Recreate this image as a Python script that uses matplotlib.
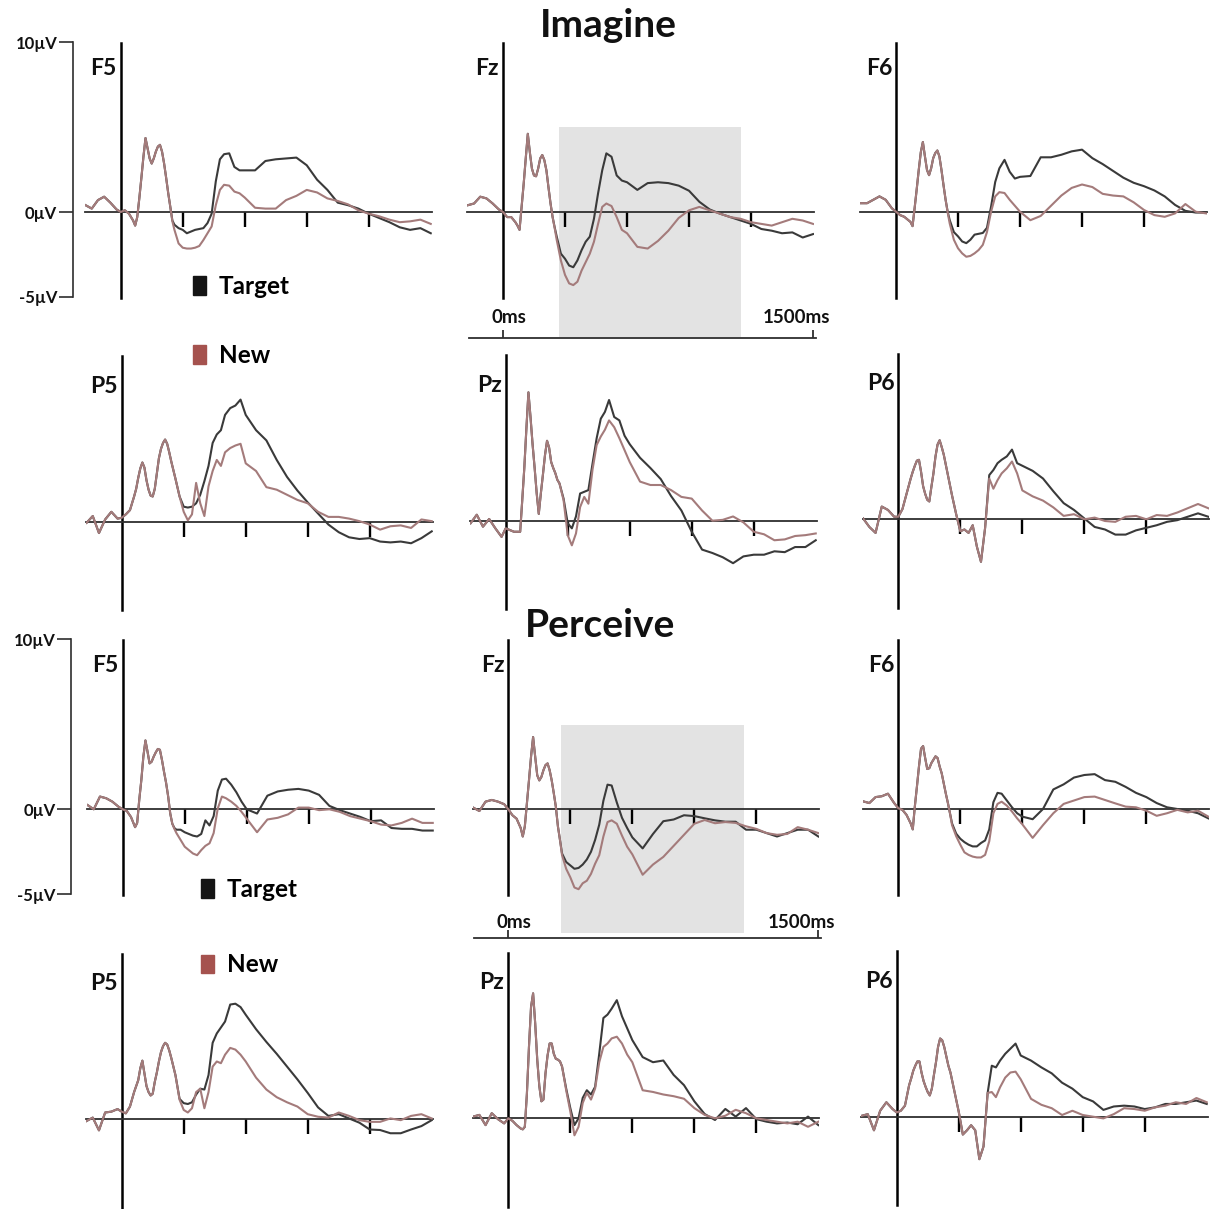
import matplotlib
matplotlib.use("Agg")
import matplotlib.pyplot as plt
from matplotlib.patches import Rectangle, Patch

# ---------------- data (ms grid, µV values) ----------------
T_MS = [-170, -140, -110, -80, -50, -20, 0, 20, 40,
        60, 70, 80, 90, 100, 110, 120, 130, 140, 150, 160, 170, 180, 190, 200, 210, 220, 230, 240, 250, 260,
        280, 300, 320, 340, 360, 380, 400, 420, 440, 460, 480, 500,
        525, 550, 575, 600,
        650, 700, 750, 800, 850, 900, 950, 1000, 1050, 1100, 1150, 1200, 1250, 1300, 1350, 1400, 1450, 1500]

IM_F5_TARGET = [0.4, 0.2, 0.7, 0.9, 0.55, 0.15, 0.0, 0.1, -0.1,
    -0.5, -0.8, -0.3, 0.8, 2.0, 3.25, 4.35, 3.75, 3.15, 2.85, 3.15, 3.55, 3.85, 3.95, 3.55, 2.85, 2.0, 1.1, 0.3, -0.5, -0.75,
    -0.95, -1.05, -1.25, -1.15, -1.05, -1.0, -0.95, -0.65, -0.1, 1.8, 3.1, 3.4,
    3.45, 2.65, 2.45, 2.45,
    2.45, 3.0, 3.1, 3.15, 3.2, 2.75, 1.9, 1.3, 0.55, 0.4, 0.2, -0.1, -0.35, -0.6, -0.9, -1.05, -0.95, -1.25]
IM_F5_NEW = [0.4, 0.2, 0.7, 0.9, 0.55, 0.15, 0.0, 0.1, -0.1,
    -0.5, -0.8, -0.3, 0.8, 2.0, 3.25, 4.35, 3.75, 3.15, 2.85, 3.15, 3.55, 3.85, 3.95, 3.55, 2.85, 2.0, 1.1, 0.3, -0.55, -1.05,
    -1.85, -2.1, -2.15, -2.15, -2.1, -2.0, -1.65, -1.25, -0.85, 0.4, 1.3, 1.6,
    1.55, 1.2, 1.1, 0.85,
    0.25, 0.2, 0.2, 0.7, 0.95, 1.3, 1.15, 0.8, 0.65, 0.45, 0.1, -0.1, -0.25, -0.45, -0.6, -0.55, -0.45, -0.7]

IM_FZ_TARGET = [0.4, 0.5, 0.9, 0.8, 0.5, 0.15, 0.0, -0.3, -0.3,
    -0.6, -0.8, -1.05, 0.3, 1.65, 3.15, 4.6, 3.5, 2.55, 2.15, 2.1, 2.55, 3.15, 3.35, 3.05, 2.45, 1.45, 0.5, -0.3, -0.9, -1.45,
    -2.45, -2.75, -3.15, -3.25, -2.85, -2.25, -1.75, -1.45, -0.4, 1.1, 2.45, 3.45,
    3.25, 2.15, 1.85, 1.75,
    1.3, 1.7, 1.75, 1.7, 1.55, 1.25, 0.6, 0.15, -0.1, -0.3, -0.5, -0.7, -1.0, -1.1, -1.25, -1.2, -1.5, -1.3]
IM_FZ_NEW = [0.4, 0.5, 0.9, 0.8, 0.5, 0.15, 0.0, -0.3, -0.3,
    -0.6, -0.8, -1.05, 0.3, 1.65, 3.15, 4.6, 3.5, 2.55, 2.15, 2.1, 2.55, 3.15, 3.35, 3.05, 2.45, 1.45, 0.5, -0.3, -0.95, -1.65,
    -2.85, -3.7, -4.2, -4.3, -4.1, -3.45, -2.95, -2.45, -1.75, -0.7, 0.3, 0.5,
    0.35, -0.3, -1.05, -1.25,
    -2.05, -2.15, -1.7, -1.1, -0.35, 0.1, 0.3, 0.1, -0.1, -0.3, -0.4, -0.6, -0.7, -0.8, -0.6, -0.4, -0.5, -0.7]

IM_F6_TARGET = [0.5, 0.5, 0.7, 0.9, 0.7, 0.2, 0.0, -0.2, -0.3,
    -0.5, -0.6, -0.85, 0.2, 1.3, 2.45, 3.5, 4.1, 3.25, 2.45, 2.15, 2.55, 3.15, 3.45, 3.6, 3.25, 2.45, 1.55, 0.7, 0.0, -0.5,
    -1.2, -1.45, -1.75, -1.85, -1.65, -1.35, -1.3, -1.25, -0.95, 0.3, 1.75, 2.55,
    3.05, 2.35, 1.95, 2.05,
    2.1, 3.2, 3.2, 3.35, 3.55, 3.65, 3.15, 2.8, 2.4, 2.0, 1.7, 1.5, 1.25, 0.9, 0.4, 0.05, -0.05, -0.05]
IM_F6_NEW = [0.5, 0.5, 0.7, 0.9, 0.7, 0.2, 0.0, -0.2, -0.3,
    -0.5, -0.6, -0.85, 0.2, 1.3, 2.45, 3.5, 4.1, 3.25, 2.45, 2.15, 2.55, 3.15, 3.45, 3.6, 3.25, 2.45, 1.55, 0.7, -0.05, -0.7,
    -1.65, -2.15, -2.45, -2.65, -2.6, -2.45, -2.25, -1.95, -1.2, 0.0, 0.9, 1.15,
    1.1, 0.7, 0.35, 0.0,
    -0.5, -0.25, 0.35, 0.95, 1.4, 1.6, 1.45, 1.05, 0.95, 0.9, 0.55, 0.1, -0.2, -0.3, -0.1, 0.45, 0.0, -0.1]

IM_P5_TARGET = [-0.05, 0.35, -0.65, 0.15, 0.6, 0.2, 0.25, 0.45, 0.7,
    1.5, 1.95, 2.6, 3.15, 3.5, 3.2, 2.45, 1.9, 1.55, 1.5, 1.95, 2.85, 3.75, 4.3, 4.65, 4.85, 4.6, 4.1, 3.55, 3.05, 2.55,
    1.5, 0.9, 0.85, 0.9, 1.1, 1.6, 2.4, 3.3, 4.65, 5.15, 5.4, 6.3,
    6.7, 6.85, 7.2, 6.3,
    5.4, 4.8, 3.65, 2.65, 1.85, 1.15, 0.5, -0.15, -0.6, -0.9, -1.0, -0.95, -1.15, -1.2, -1.15, -1.25, -0.95, -0.55]
IM_P5_NEW = [-0.05, 0.35, -0.65, 0.15, 0.6, 0.2, 0.25, 0.45, 0.7,
    1.5, 1.95, 2.6, 3.15, 3.5, 3.2, 2.45, 1.9, 1.55, 1.5, 1.95, 2.85, 3.75, 4.3, 4.65, 4.85, 4.6, 4.1, 3.55, 3.05, 2.55,
    1.5, 0.6, 0.1, 0.45, 2.3, 1.1, 0.35, 2.1, 3.0, 3.65, 3.3, 4.1,
    4.35, 4.5, 4.6, 3.45,
    3.0, 2.05, 1.9, 1.6, 1.3, 1.1, 0.6, 0.3, 0.3, 0.2, 0.05, -0.15, -0.45, -0.25, -0.2, -0.35, 0.15, 0.05]

IM_PZ_TARGET = [-0.15, 0.35, -0.35, 0.1, -0.45, -0.95, -0.45, -0.55, -0.65,
    -0.65, -0.65, 1.2, 3.1, 5.4, 7.55, 6.1, 4.5, 3.1, 1.6, 0.4, 1.6, 2.7, 3.85, 4.7, 4.3, 3.45, 3.1, 2.8, 2.4, 2.2,
    1.3, -0.15, -0.45, 0.25, 1.6, 1.7, 1.8, 3.35, 4.85, 6.0, 6.4, 7.1,
    6.1, 5.9, 5.0, 4.5,
    3.7, 3.1, 2.45, 1.45, 0.6, -0.65, -1.7, -1.9, -2.15, -2.5, -2.1, -2.0, -2.0, -1.8, -1.85, -1.55, -1.55, -1.15]
IM_PZ_NEW = [-0.15, 0.35, -0.35, 0.1, -0.45, -0.95, -0.45, -0.55, -0.65,
    -0.65, -0.65, 1.2, 3.1, 5.4, 7.55, 6.1, 4.5, 3.1, 1.6, 0.4, 1.6, 2.7, 3.85, 4.7, 4.3, 3.45, 3.1, 2.8, 2.4, 2.2,
    1.2, -0.85, -1.45, -0.75, 0.8, 1.4, 1.0, 3.0, 4.45, 4.95, 5.35, 5.9,
    5.5, 4.85, 4.15, 3.45,
    2.3, 2.1, 2.1, 1.8, 1.4, 1.3, 0.6, 0.0, 0.05, 0.25, -0.1, -0.65, -0.8, -1.15, -1.1, -0.9, -0.85, -0.75]

IM_P6_TARGET = [0.05, -0.45, -0.8, 0.75, 0.55, 0.15, 0.15, 0.6, 1.5,
    2.4, 2.8, 3.15, 3.45, 3.5, 2.8, 1.95, 1.5, 1.15, 1.05, 1.9, 2.7, 3.7, 4.4, 4.65, 4.25, 3.8, 3.2, 2.6, 2.0, 1.4,
    0.3, -0.7, -0.6, -0.8, -0.35, -1.6, -2.5, -0.5, 2.6, 2.9, 3.3, 3.5,
    3.7, 4.1, 3.3, 3.15,
    2.85, 2.4, 1.65, 0.95, 0.55, 0.05, -0.45, -0.6, -0.9, -0.9, -0.65, -0.5, -0.35, -0.15, -0.05, 0.15, 0.35, 0.15]
IM_P6_NEW = [0.05, -0.45, -0.8, 0.75, 0.55, 0.15, 0.15, 0.6, 1.5,
    2.4, 2.8, 3.15, 3.45, 3.5, 2.8, 1.95, 1.5, 1.15, 1.05, 1.9, 2.7, 3.7, 4.4, 4.65, 4.25, 3.8, 3.2, 2.6, 2.0, 1.4,
    0.3, -0.7, -0.6, -0.8, -0.35, -1.6, -2.5, -0.5, 2.4, 1.8, 2.3, 2.7,
    3.0, 3.4, 2.7, 1.7,
    1.35, 1.1, 0.7, 0.2, 0.3, 0.0, 0.1, -0.1, -0.15, 0.15, 0.2, 0.0, 0.25, 0.2, 0.4, 0.65, 0.9, 0.65]

PE_F5_TARGET = [0.25, 0.0, 0.75, 0.65, 0.45, 0.15, 0.0, -0.1, -0.45,
    -1.05, -0.8, 0.55, 1.7, 3.1, 4.05, 3.4, 2.7, 2.8, 3.1, 3.35, 3.55, 3.5, 2.9, 2.2, 1.55, 0.75, -0.25, -0.85, -1.1, -1.2,
    -1.2, -1.35, -1.45, -1.55, -1.6, -1.45, -0.65, -0.95, -0.4, 1.1, 1.75, 1.8,
    1.45, 1.0, 0.45, 0.0,
    -0.25, 0.8, 1.05, 1.15, 1.2, 1.1, 0.85, 0.2, -0.05, -0.25, -0.45, -0.7, -0.65, -1.1, -1.15, -1.15, -1.25, -1.25]
PE_F5_NEW = [0.25, 0.0, 0.75, 0.65, 0.45, 0.15, 0.0, -0.1, -0.45,
    -1.05, -0.8, 0.55, 1.7, 3.1, 4.05, 3.4, 2.7, 2.8, 3.1, 3.35, 3.55, 3.5, 2.9, 2.2, 1.55, 0.75, -0.25, -0.85, -1.15, -1.4,
    -1.8, -2.2, -2.4, -2.6, -2.7, -2.4, -2.15, -2.0, -1.4, 0.05, 0.75, 0.65,
    0.45, 0.2, -0.15, -0.55,
    -1.35, -0.6, -0.5, -0.3, 0.1, 0.1, -0.05, 0.0, -0.15, -0.4, -0.55, -0.7, -0.9, -0.95, -0.8, -0.55, -0.8, -0.8]

PE_FZ_TARGET = [0.1, -0.1, 0.45, 0.55, 0.45, 0.3, 0.0, -0.35, -0.55,
    -1.1, -1.6, -1.0, 0.35, 1.7, 3.1, 4.25, 3.1, 2.0, 1.7, 1.9, 2.3, 2.6, 2.7, 2.3, 1.7, 0.95, 0.15, -1.0, -1.8, -2.6,
    -3.1, -3.3, -3.5, -3.45, -3.25, -2.95, -2.5, -1.8, -0.9, 0.5, 1.45, 1.4,
    0.4, -0.5, -1.1, -1.65,
    -2.3, -1.45, -0.7, -0.6, -0.35, -0.4, -0.53, -0.65, -0.73, -0.73, -1.2, -1.2, -1.4, -1.6, -1.4, -1.2, -1.2, -1.6]
PE_FZ_NEW = [0.1, -0.1, 0.45, 0.55, 0.45, 0.3, 0.0, -0.35, -0.55,
    -1.1, -1.6, -1.0, 0.35, 1.7, 3.1, 4.25, 3.1, 2.0, 1.7, 1.9, 2.3, 2.6, 2.7, 2.3, 1.7, 0.95, 0.15, -1.0, -1.8, -2.7,
    -3.5, -4.0, -4.6, -4.7, -4.35, -4.2, -3.8, -3.2, -2.7, -1.6, -0.75, -0.65,
    -0.85, -1.55, -2.2, -2.65,
    -3.85, -3.25, -2.8, -2.15, -1.5, -0.85, -0.63, -0.82, -0.75, -0.8, -1.0, -1.15, -1.4, -1.5, -1.45, -1.05, -1.2, -1.4]

PE_F6_TARGET = [0.45, 0.35, 0.7, 0.75, 0.9, 0.35, 0.05, -0.05, -0.35,
    -0.85, -1.2, 0.15, 1.3, 2.5, 3.55, 3.7, 3.0, 2.35, 2.4, 2.7, 2.9, 3.1, 3.0, 2.5, 2.1, 1.5, 0.9, 0.35, -0.25, -0.85,
    -1.45, -1.75, -1.95, -2.1, -2.2, -2.2, -2.0, -1.85, -1.2, 0.4, 0.95, 0.9,
    0.5, 0.1, -0.25, -0.45,
    -0.6, 0.0, 1.15, 1.45, 1.85, 2.0, 2.05, 1.7, 1.6, 1.3, 0.95, 0.7, 0.35, 0.1, 0.0, -0.1, -0.25, -0.55]
PE_F6_NEW = [0.45, 0.35, 0.7, 0.75, 0.9, 0.35, 0.05, -0.05, -0.35,
    -0.85, -1.2, 0.15, 1.3, 2.5, 3.55, 3.7, 3.0, 2.35, 2.4, 2.7, 2.9, 3.1, 3.0, 2.5, 2.1, 1.5, 0.9, 0.35, -0.25, -0.95,
    -1.6, -2.1, -2.55, -2.7, -2.8, -2.85, -2.85, -2.7, -1.9, -0.25, 0.3, 0.43,
    0.2, -0.15, -0.55, -0.9,
    -1.7, -0.95, -0.25, 0.3, 0.5, 0.7, 0.73, 0.53, 0.33, 0.14, 0.1, -0.1, -0.4, -0.25, -0.05, -0.2, -0.1, -0.45]

PE_P5_TARGET = [-0.1, 0.1, -0.65, 0.4, 0.45, 0.6, 0.45, 0.35, 0.75,
    1.6, 1.95, 2.3, 3.0, 3.45, 2.7, 1.95, 1.6, 1.4, 1.5, 2.2, 2.75, 3.4, 3.95, 4.3, 4.5, 4.4, 4.05, 3.6, 3.1, 2.6,
    1.2, 0.95, 0.9, 1.0, 1.45, 1.8, 1.75, 2.6, 4.5, 5.05, 5.4, 5.75,
    6.75, 6.8, 6.6, 6.15,
    5.3, 4.55, 3.85, 3.1, 2.35, 1.55, 0.7, 0.2, 0.3, 0.05, -0.2, -0.6, -0.63, -0.82, -0.82, -0.6, -0.4, -0.05]
PE_P5_NEW = [-0.1, 0.1, -0.65, 0.4, 0.45, 0.6, 0.45, 0.35, 0.75,
    1.6, 1.95, 2.3, 3.0, 3.45, 2.7, 1.95, 1.6, 1.4, 1.5, 2.2, 2.75, 3.4, 3.95, 4.3, 4.5, 4.4, 4.05, 3.6, 3.1, 2.6,
    1.15, 0.55, 0.4, 0.65, 1.6, 1.8, 0.65, 1.6, 3.1, 3.4, 3.3, 3.8,
    4.2, 4.1, 3.8, 3.4,
    2.45, 1.75, 1.3, 1.0, 0.75, 0.3, 0.15, 0.1, 0.4, 0.2, -0.05, -0.15, -0.15, 0.05, -0.05, 0.2, 0.3, 0.05]

PE_PZ_TARGET = [0.1, 0.2, -0.4, 0.3, -0.05, -0.3, 0.0, -0.15, -0.4,
    -0.6, -0.65, -0.5, 1.45, 4.2, 6.55, 7.35, 5.6, 3.45, 1.9, 1.0, 1.1, 2.65, 3.7, 4.4, 4.4, 3.8, 3.5, 3.45, 3.35, 3.05,
    1.75, 0.6, -0.4, 0.0, 1.2, 1.65, 1.4, 1.85, 3.8, 5.9, 6.1, 6.45,
    6.95, 6.0, 5.3, 4.6,
    3.6, 3.3, 3.4, 2.55, 1.95, 1.0, 0.25, -0.1, 0.55, 0.1, 0.6, -0.05, -0.2, -0.3, -0.25, -0.35, 0.1, -0.4]
PE_PZ_NEW = [0.1, 0.2, -0.4, 0.3, -0.05, -0.3, 0.0, -0.15, -0.4,
    -0.6, -0.65, -0.5, 1.45, 4.2, 6.55, 7.35, 5.6, 3.45, 1.9, 1.0, 1.1, 2.65, 3.7, 4.4, 4.4, 3.8, 3.5, 3.45, 3.35, 3.05,
    1.65, 0.4, -1.0, -0.5, 0.9, 1.5, 1.1, 1.75, 3.3, 4.2, 4.4, 4.7,
    4.8, 4.4, 3.75, 3.3,
    1.65, 1.55, 1.4, 1.3, 1.15, 0.6, 0.2, 0.0, 0.15, 0.5, 0.3, 0.0, -0.1, -0.2, -0.3, -0.2, -0.5, -0.2]

PE_P6_TARGET = [0.05, 0.15, -0.8, 0.35, 0.85, 0.45, 0.25, 0.35, 0.65,
    1.85, 2.25, 2.7, 3.0, 3.25, 3.25, 2.6, 2.1, 1.75, 1.45, 1.25, 1.65, 2.45, 3.2, 4.1, 4.6, 4.5, 4.1, 3.55, 3.0, 2.6,
    1.45, 0.3, -1.05, -0.8, -0.5, -0.8, -2.5, -1.75, 1.4, 3.0, 2.9, 3.3,
    3.7, 4.0, 4.3, 3.6,
    3.3, 2.9, 2.55, 2.0, 1.65, 1.15, 0.9, 0.4, 0.6, 0.65, 0.6, 0.45, 0.55, 0.75, 0.75, 0.85, 0.95, 0.75]
PE_P6_NEW = [0.05, 0.15, -0.8, 0.35, 0.85, 0.45, 0.25, 0.35, 0.65,
    1.85, 2.25, 2.7, 3.0, 3.25, 3.25, 2.6, 2.1, 1.75, 1.45, 1.25, 1.65, 2.45, 3.2, 4.1, 4.6, 4.5, 4.1, 3.55, 3.0, 2.6,
    1.45, 0.3, -1.05, -0.8, -0.5, -0.8, -2.5, -1.75, 1.4, 1.45, 1.15, 1.73,
    2.3, 2.6, 2.65, 2.2,
    1.05, 0.7, 0.5, 0.1, 0.35, 0.1, 0.0, -0.1, 0.15, 0.5, 0.45, 0.35, 0.55, 0.65, 0.85, 0.75, 1.1, 0.85]

ELECTRODES_F = ["F5", "Fz", "F6"]
ELECTRODES_P = ["P5", "Pz", "P6"]
BLOCK_TITLES = ["Imagine", "Perceive"]
LEGEND_LABELS = ["Target", "New"]
TIME_TICKS_MS = [300, 600, 900, 1200]
SCALE_UV = [-5, 0, 10]
SCALE_LABELS = ["-5µV", "0µV", "10µV"]
TIMEBAR_MS = [0, 1500]
TIMEBAR_LABELS = ["0ms", "1500ms"]
SHADE_IM_MS = (270, 1150)
SHADE_PE_MS = (255, 1140)

# ---------------- layout ----------------
W, H, DPI = 1214, 1209, 100
PX_MS = 0.2067   # pixels per ms
PX_UV = 17.0     # pixels per µV
FONT = ['Lato', 'DejaVu Sans']
plt.rcParams['font.family'] = FONT

TARGET_COLOR = '#3a3a3a'
NEW_COLOR = '#a47b7b'
TARGET_MARK = '#141414'
NEW_MARK = '#a5524e'

XLIM = (-172, 1505)
F_YLIM = (-5.05, 9.95)
P_YLIM = (-5.2, 9.75)
F_LABEL_UV = 8.05
P_LABEL_UV = 7.6

# origin (t=0, 0 µV) of each panel in pixels
ORIGINS = {
    (0, 0): (120.7, 212.0), (0, 1): (503.0, 212.0), (0, 2): (896.0, 211.7),
    (1, 0): (121.7, 522.0), (1, 1): (505.7, 520.7), (1, 2): (898.3, 519.3),
    (2, 0): (122.7, 809.3), (2, 1): (508.3, 809.3), (2, 2): (898.3, 809.0),
    (3, 0): (121.7, 1119.3), (3, 1): (508.3, 1118.3), (3, 2): (896.7, 1116.7),
}

SERIES = {
    (0, 0): (IM_F5_TARGET, IM_F5_NEW), (0, 1): (IM_FZ_TARGET, IM_FZ_NEW), (0, 2): (IM_F6_TARGET, IM_F6_NEW),
    (1, 0): (IM_P5_TARGET, IM_P5_NEW), (1, 1): (IM_PZ_TARGET, IM_PZ_NEW), (1, 2): (IM_P6_TARGET, IM_P6_NEW),
    (2, 0): (PE_F5_TARGET, PE_F5_NEW), (2, 1): (PE_FZ_TARGET, PE_FZ_NEW), (2, 2): (PE_F6_TARGET, PE_F6_NEW),
    (3, 0): (PE_P5_TARGET, PE_P5_NEW), (3, 1): (PE_PZ_TARGET, PE_PZ_NEW), (3, 2): (PE_P6_TARGET, PE_P6_NEW),
}
for key, (a, b) in SERIES.items():
    if len(a) != len(T_MS) or len(b) != len(T_MS):
        raise ValueError(f"length mismatch {key}: {len(a)} {len(b)} vs {len(T_MS)}")

fig = plt.figure(figsize=(W / DPI, H / DPI), dpi=DPI)
fig.patch.set_facecolor('white')


def axes_px(x0, yb, xlim, ylim):
    left = x0 + xlim[0] * PX_MS
    width = (xlim[1] - xlim[0]) * PX_MS
    top = yb - ylim[1] * PX_UV
    height = (ylim[1] - ylim[0]) * PX_UV
    ax = fig.add_axes([left / W, 1 - (top + height) / H, width / W, height / H])
    ax.set_xlim(*xlim)
    ax.set_ylim(*ylim)
    ax.patch.set_visible(False)
    return ax


panel_axes = {}
for (r, c), (tgt, new) in SERIES.items():
    x0, yb = ORIGINS[(r, c)]
    is_f = (r % 2 == 0)
    ylim = F_YLIM if is_f else P_YLIM
    ax = axes_px(x0, yb, XLIM, ylim)
    panel_axes[(r, c)] = ax
    ax.plot(T_MS, tgt, color=TARGET_COLOR, lw=1.5, zorder=3, solid_joinstyle='round')
    ax.plot(T_MS, new, color=NEW_COLOR, lw=1.5, zorder=4, solid_joinstyle='round')
    for s in ('top', 'right'):
        ax.spines[s].set_visible(False)
    ax.spines['left'].set_position(('data', 0))
    ax.spines['bottom'].set_position(('data', 0))
    ax.spines['left'].set_linewidth(1.8)
    ax.spines['left'].set_color('black')
    ax.spines['bottom'].set_linewidth(1.3)
    ax.spines['bottom'].set_color('#2e2e2e')
    ax.set_xticks(TIME_TICKS_MS)
    ax.set_xticklabels([])
    ax.set_yticks([])
    ax.tick_params(axis='x', direction='out', length=10.5, width=1.7, color='black')
    name = (ELECTRODES_F if is_f else ELECTRODES_P)[c]
    ax.annotate(name, xy=(0, F_LABEL_UV if is_f else P_LABEL_UV), xycoords='data',
                xytext=(-4, 0), textcoords='offset pixels', ha='right', va='baseline',
                fontsize=16.5, fontweight='bold', color='#111111')

# shaded analysis window in the Fz panels
for (r, shade, uv) in [(0, SHADE_IM_MS, (-7.35, 5.0)), (2, SHADE_PE_MS, (-7.3, 4.95))]:
    ax = panel_axes[(r, 1)]
    ax.add_patch(Rectangle((shade[0], uv[0]), shade[1] - shade[0], uv[1] - uv[0],
                           facecolor='#e3e3e3', edgecolor='none', zorder=0, clip_on=False))


# time scale bar under Fz
def time_bar(x0, y_px, text_dy):
    xl = (-172, 1520)
    left = x0 + xl[0] * PX_MS
    width = (xl[1] - xl[0]) * PX_MS
    tb = fig.add_axes([left / W, 1 - y_px / H, width / W, 0.5 / H])
    tb.set_xlim(*xl)
    tb.patch.set_visible(False)
    for s in ('top', 'right', 'left'):
        tb.spines[s].set_visible(False)
    tb.spines['bottom'].set_bounds(-165, 1512)
    tb.spines['bottom'].set_linewidth(1.3)
    tb.spines['bottom'].set_color('#2e2e2e')
    tb.set_yticks([])
    tb.set_xticks(TIMEBAR_MS)
    tb.set_xticklabels([])
    tb.tick_params(axis='x', direction='in', length=6, width=1.3, color='#2e2e2e')
    for t, lab, dx in zip(TIMEBAR_MS, TIMEBAR_LABELS, (6, -17)):
        tb.annotate(lab, xy=(t, 0), xycoords=('data', 'axes fraction'), xytext=(dx, text_dy),
                    textcoords='offset pixels', ha='center', va='baseline',
                    fontsize=13.5, fontweight='bold', color='#111111')


time_bar(ORIGINS[(0, 1)][0], 338.5, 15)
time_bar(ORIGINS[(2, 1)][0], 938.3, 10)


# µV scale bar at the left
def scale_bar(x_px, yb):
    yl = (-5.6, 10.6)
    top = yb - yl[1] * PX_UV
    height = (yl[1] - yl[0]) * PX_UV
    sb = fig.add_axes([x_px / W, 1 - (top + height) / H, 1.0 / W, height / H])
    sb.set_ylim(*yl)
    sb.patch.set_visible(False)
    for s in ('top', 'right', 'bottom'):
        sb.spines[s].set_visible(False)
    sb.spines['left'].set_bounds(SCALE_UV[0], SCALE_UV[-1])
    sb.spines['left'].set_linewidth(1.2)
    sb.spines['left'].set_color('#2e2e2e')
    sb.set_xticks([])
    sb.set_yticks(SCALE_UV)
    sb.set_yticklabels(SCALE_LABELS)
    sb.tick_params(axis='y', direction='out', length=10, width=1.2, pad=1, color='#2e2e2e',
                   labelsize=12)
    for lab in sb.get_yticklabels():
        lab.set_fontweight('bold')
        lab.set_color('#111111')


scale_bar(72.5, ORIGINS[(0, 0)][1])
scale_bar(71.0, ORIGINS[(2, 0)][1])

# legends
for (ax_px, ay_px, spacing) in [(193, 275, 1.9), (201, 878, 2.15)]:
    handles = [Patch(facecolor=TARGET_MARK, edgecolor=TARGET_MARK, label=LEGEND_LABELS[0]),
               Patch(facecolor=NEW_MARK, edgecolor=NEW_MARK, label=LEGEND_LABELS[1])]
    fig.legend(handles=handles, loc='upper left', bbox_to_anchor=(ax_px / W, 1 - ay_px / H),
               frameon=False, handlelength=0.55, handleheight=0.8, handletextpad=0.5,
               labelspacing=spacing, borderpad=0, borderaxespad=0,
               prop={'family': FONT, 'weight': 'bold', 'size': 17.5})

# block titles
fig.text(608 / W, 1 - 37 / H, BLOCK_TITLES[0], ha='center', va='baseline', fontsize=28,
         fontweight='bold', color='#111111')
fig.text(600 / W, 1 - 637 / H, BLOCK_TITLES[1], ha='center', va='baseline', fontsize=28,
         fontweight='bold', color='#111111')

fig.savefig('out.png', dpi=DPI, facecolor='white')
